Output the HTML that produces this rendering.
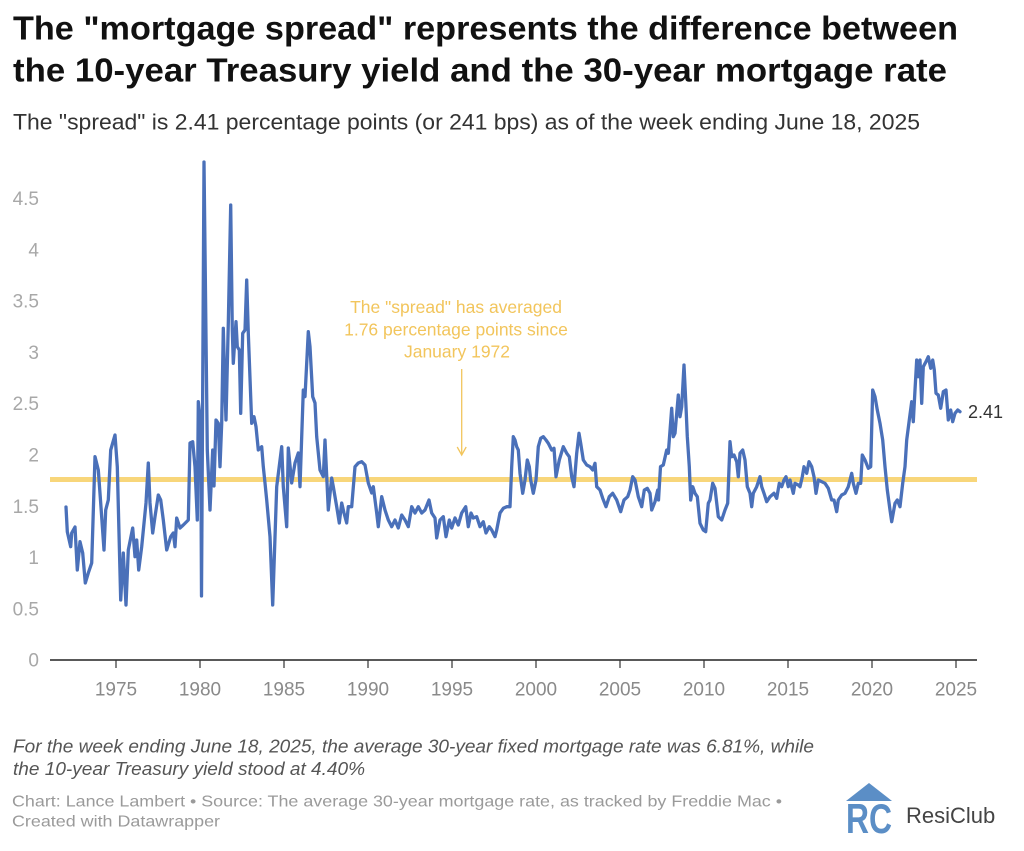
<!DOCTYPE html>
<html><head><meta charset="utf-8"><style>
html,body{margin:0;padding:0;background:#fff;}
svg{display:block;}
text{font-family:"Liberation Sans",Arial,sans-serif;}
</style></head><body>
<svg width="1024" height="851" viewBox="0 0 1024 851" xmlns="http://www.w3.org/2000/svg">
<rect width="1024" height="851" fill="#fff"/>
<!-- Title -->
<text x="13" y="39.5" font-size="33" font-weight="bold" fill="#111" textLength="945" lengthAdjust="spacingAndGlyphs">The "mortgage spread" represents the difference between</text>
<text x="13" y="81.7" font-size="33" font-weight="bold" fill="#111" textLength="934" lengthAdjust="spacingAndGlyphs">the 10-year Treasury yield and the 30-year mortgage rate</text>
<text x="13" y="129.3" font-size="22" fill="#333" textLength="907" lengthAdjust="spacingAndGlyphs">The "spread" is 2.41 percentage points (or 241 bps) as of the week ending June 18, 2025</text>

<!-- Y labels -->
<g font-size="19" fill="#a8a8a8" text-anchor="end">
<text x="39" y="666.7">0</text>
<text x="39" y="615.4">0.5</text>
<text x="39" y="564.1">1</text>
<text x="39" y="512.8">1.5</text>
<text x="39" y="461.5">2</text>
<text x="39" y="410.2">2.5</text>
<text x="39" y="358.9">3</text>
<text x="39" y="307.6">3.5</text>
<text x="39" y="256.3">4</text>
<text x="39" y="205">4.5</text>
</g>

<!-- average line -->
<line x1="50" y1="479.5" x2="977" y2="479.5" stroke="#f8d67a" stroke-width="5"/>

<!-- annotation -->
<g font-size="17.5" fill="#f2c55c" text-anchor="middle">
<text x="456" y="313">The "spread" has averaged</text>
<text x="456" y="335.3">1.76 percentage points since</text>
<text x="457" y="357.5">January 1972</text>
</g>
<line x1="461.7" y1="369" x2="461.7" y2="455" stroke="#f2c55c" stroke-width="1.3"/>
<polyline points="457.2,447 461.7,455 466.2,447" fill="none" stroke="#f2c55c" stroke-width="1.3"/>

<!-- series -->
<polyline fill="none" stroke="#4a70b9" stroke-width="3.3" stroke-linejoin="round" stroke-linecap="round" points="
66,507 67.3,531.7 70.7,546.7 71.7,533 75,527 77.3,570 80,541.7 82.7,553 85.3,583 88.3,573 91.7,563 95,456.7 98.3,470 100.7,503 104,550 105.7,510 108.3,500 110.7,450 115,435 117.3,466.7 120.7,600 123.3,553 126,605 128.3,550 132.7,528 135,556.7 136.7,540 138.7,570 141.7,546.7 146,503 148.3,463 150,503 152.7,533 155,516.7 158.3,495 160.7,500 163.3,520 166.7,550 170.7,536.7 173.3,533 175,546.7 176.7,518 180,528 183.3,525 188.3,520 190,443 192.7,441.7 195,466.7 197.3,520 198.3,401.7 200.7,423.3 201.5,596 204,162 207.3,450 210,510 212.7,450 214,486 216,420 218.3,423.3 220,466.7 221.7,423.3 223.3,328.3 225,390 226,420 228.3,323.3 230.7,205 232.3,330 233.3,363.3 236,321.7 237.3,346.7 239.3,350 240.7,413.3 242.7,333.3 245,330 246.7,280 248.3,333.3 251.7,423.3 254,416.7 256,426.7 258.3,450 261.7,446.7 263.3,466.7 265,483 266.7,500 270,536.7 272.7,605 276.7,486.7 281.7,446.7 283.3,486.7 286.7,526.7 288.3,448 291.7,483 295,463 298.3,453 300,486.7 303.3,390 305,396.7 308.3,331.7 310,346.7 312.7,396.7 315,403 316.7,436.7 320,470 323.3,476.7 325,440 328.3,510 331.7,478 333.3,486.7 336.7,506.7 339.3,523 341.7,503 344,513 346.7,523 348.3,506.7 351.7,506.7 355,466.7 358.3,463 361.7,461.7 365,465 368.3,483 371.7,493 373.3,486.7 376.7,513 378.3,526.7 381.7,496.7 385,510 388.3,520 391.7,526.7 395,520 398.3,528 401.7,515 405,520 408.3,526.7 411.7,506.7 415,513 418.3,506.7 421.7,513 425,510 429,500 431.7,513 435,518 436.7,538 440,520 443.3,516.7 446,536.7 449.3,520 451.7,528 455,518 458.3,525 461.7,513 465.7,506.7 468.3,526.7 471,513 473.3,518 476.7,516.7 480,526.7 483.3,521.7 486,533 489.3,526.7 491.7,530 495,536.7 496.7,530 500,513 503.3,508.3 506.7,506.7 510,506.7 511.7,466.7 513.3,436.7 515,440 516.7,446.7 518.3,450 520,473.3 522.7,493.3 525,480 527.3,460 529.3,466.7 530.7,480 533.3,493.3 536,480 538.3,446.7 540.7,438.3 543.3,436.7 546,440 548.3,443.3 551.7,450 554,448.3 556,476.7 559.3,460 563.3,446.7 566.7,453.3 569.3,456.7 571.7,476.7 574,486.7 576.7,453.3 579,433.3 580.7,443.3 583.3,460 586.7,465 590,466.7 592.7,470 595,463.3 596.7,486.7 600,490 602.7,498.3 606,506.7 609.3,496.7 612.7,493.3 616.7,500 620.7,511.7 624,500 627.7,496.7 630,490 632.7,476.7 635,480 638.3,496.7 641.7,506.7 644.3,490 647.3,488.3 650,493.3 651.7,510 655,501.7 657.7,490 658.5,500 660.5,466.7 663.3,465 666.7,450 668.3,453.3 671.7,408.3 673.3,436.7 675,433.3 678.3,395 680,416.7 681.7,406.7 684,365 686,406.7 687.3,436.7 689.3,466.7 690.7,500 692.7,486.7 695,493.3 697.3,496.7 700,523.3 703.3,530 705.7,531.7 708.3,503.3 710,500 712.7,483.3 715,488.3 718.3,516.7 721.7,520 725,510 727.7,503.3 730,441.7 731.7,456.7 734,455 736.7,461.7 738.3,476.7 740,453.3 742.7,450 745,460 747.3,486.7 750,493.3 751.7,506.7 753.3,493.3 756.7,486.7 760,476.7 761.7,486.7 764,493.3 766.7,501.7 770,496.7 774,493.3 776.7,498.3 779.3,483.3 781.7,486.7 784,480 786,476.7 788.3,486.7 790,480 793.3,493.3 795,483.3 798.3,485 800,486.7 802.3,476.7 804,466.7 806.7,473.3 809,461.7 811.7,466.7 814,476.7 816,493.3 818.3,480 821.7,481.7 825,483.3 828.3,488.3 831.7,500 834,500 836.7,511.7 838.3,500 841.7,495 845,493.3 848.3,486.7 851.7,473.3 853.3,483.3 856,493.3 858.3,483.3 860.7,483.3 862.3,455 865,460 868.3,468.3 870.7,466.7 872.7,390 875,396.7 877.3,410 880,423.3 882.7,440 885,466.7 887.3,490 890,510 891.7,521.7 895,503.3 897.3,500 900,506.7 902.7,483.3 905,466.7 906.7,440 909.3,420 911.7,401.7 913.3,421.7 915,390 916.7,360 918.3,376.7 920,360 921.7,403.3 923.3,366.7 926,361.7 928.3,356.7 930.7,368.3 932.7,360 934.3,370 936,393.3 938.3,395 940.7,408.3 943.3,391.7 946,390 948.3,420 950.7,410 952.7,421.7 955,413.3 957.7,410 960,411.7"/>
<text x="968" y="418" font-size="18" fill="#333">2.41</text>

<!-- x axis -->
<line x1="50" y1="660" x2="977" y2="660" stroke="#222" stroke-width="1.6"/>
<g stroke="#333" stroke-width="1.2">
<line x1="116" y1="660" x2="116" y2="668"/>
<line x1="200" y1="660" x2="200" y2="668"/>
<line x1="284" y1="660" x2="284" y2="668"/>
<line x1="368" y1="660" x2="368" y2="668"/>
<line x1="452" y1="660" x2="452" y2="668"/>
<line x1="536" y1="660" x2="536" y2="668"/>
<line x1="620" y1="660" x2="620" y2="668"/>
<line x1="704" y1="660" x2="704" y2="668"/>
<line x1="788" y1="660" x2="788" y2="668"/>
<line x1="872" y1="660" x2="872" y2="668"/>
<line x1="956" y1="660" x2="956" y2="668"/>
</g>
<g font-size="19" fill="#8a8a8a" text-anchor="middle">
<text x="116" y="695.7">1975</text>
<text x="200" y="695.7">1980</text>
<text x="284" y="695.7">1985</text>
<text x="368" y="695.7">1990</text>
<text x="452" y="695.7">1995</text>
<text x="536" y="695.7">2000</text>
<text x="620" y="695.7">2005</text>
<text x="704" y="695.7">2010</text>
<text x="788" y="695.7">2015</text>
<text x="872" y="695.7">2020</text>
<text x="956" y="695.7">2025</text>
</g>

<!-- footer -->
<text x="13" y="752.7" font-size="18" font-style="italic" fill="#555" textLength="801" lengthAdjust="spacingAndGlyphs">For the week ending June 18, 2025, the average 30-year fixed mortgage rate was 6.81%, while</text>
<text x="13" y="775" font-size="18" font-style="italic" fill="#555" textLength="352" lengthAdjust="spacingAndGlyphs">the 10-year Treasury yield stood at 4.40%</text>
<text x="12" y="806.7" font-size="16" fill="#9a9a9a" textLength="770" lengthAdjust="spacingAndGlyphs">Chart: Lance Lambert • Source: The average 30-year mortgage rate, as tracked by Freddie Mac •</text>
<text x="12" y="826.7" font-size="16" fill="#9a9a9a" textLength="208" lengthAdjust="spacingAndGlyphs">Created with Datawrapper</text>

<!-- logo -->
<polygon points="846,801 869,783 892,801" fill="#5b8ec6"/>
<text x="846" y="833" font-size="42" font-weight="bold" fill="#5b8ec6" textLength="46" lengthAdjust="spacingAndGlyphs">RC</text>
<text x="906" y="823" font-size="22" fill="#444">ResiClub</text>
</svg>
</body></html>
